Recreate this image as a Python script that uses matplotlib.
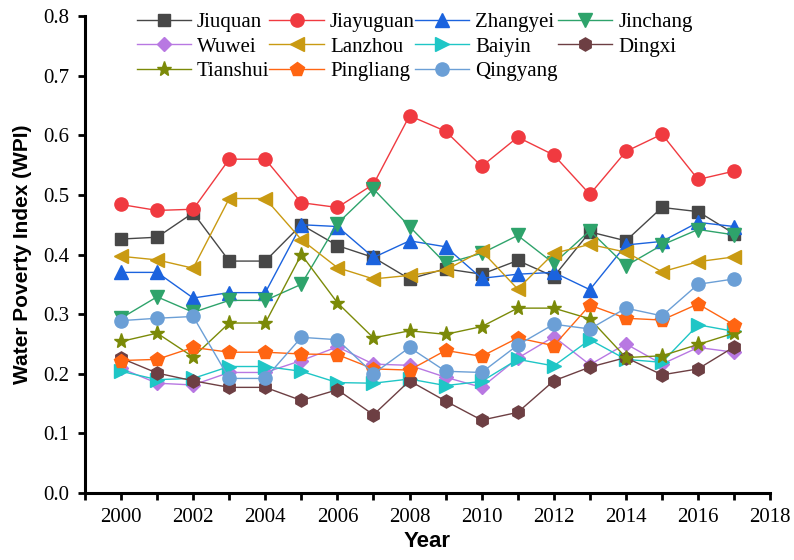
import numpy as np
import matplotlib.pyplot as plt
from matplotlib.ticker import MultipleLocator

years = list(range(2000, 2018))

cities = ['Jiuquan', 'Jiayuguan', 'Zhangyei', 'Jinchang', 'Wuwei', 'Lanzhou',
          'Baiyin', 'Dingxi', 'Tianshui', 'Pingliang', 'Qingyang']

jiuquan = [0.426, 0.429, 0.470, 0.389, 0.389, 0.450, 0.415, 0.395, 0.359, 0.376,
           0.367, 0.390, 0.363, 0.438, 0.423, 0.479, 0.472, 0.435]
jiayuguan = [0.484, 0.474, 0.476, 0.560, 0.560, 0.487, 0.479, 0.518, 0.633, 0.607,
             0.548, 0.597, 0.567, 0.501, 0.573, 0.602, 0.526, 0.540]
zhangyei = [0.370, 0.370, 0.327, 0.336, 0.336, 0.450, 0.447, 0.395, 0.423, 0.413,
            0.360, 0.367, 0.370, 0.341, 0.416, 0.422, 0.454, 0.447]
jinchang = [0.293, 0.329, 0.303, 0.323, 0.323, 0.350, 0.452, 0.510, 0.447, 0.385,
            0.402, 0.432, 0.385, 0.440, 0.381, 0.416, 0.442, 0.433]
wuwei = [0.209, 0.184, 0.181, 0.202, 0.202, 0.222, 0.245, 0.216, 0.214, 0.194,
         0.177, 0.226, 0.262, 0.215, 0.250, 0.216, 0.244, 0.236]
lanzhou = [0.397, 0.391, 0.377, 0.494, 0.494, 0.425, 0.378, 0.359, 0.365, 0.374,
           0.406, 0.342, 0.402, 0.417, 0.404, 0.371, 0.388, 0.396]
baiyin = [0.204, 0.190, 0.192, 0.212, 0.212, 0.204, 0.185, 0.184, 0.191, 0.180,
          0.187, 0.224, 0.213, 0.257, 0.224, 0.219, 0.282, 0.271]
dingxi = [0.226, 0.201, 0.188, 0.177, 0.177, 0.155, 0.173, 0.131, 0.188, 0.154,
          0.122, 0.135, 0.188, 0.211, 0.227, 0.198, 0.208, 0.245]
tianshui = [0.254, 0.268, 0.228, 0.285, 0.285, 0.400, 0.319, 0.260, 0.272, 0.266,
            0.279, 0.310, 0.310, 0.292, 0.227, 0.230, 0.249, 0.268]
pingliang = [0.222, 0.224, 0.244, 0.236, 0.236, 0.233, 0.232, 0.208, 0.206, 0.239,
             0.229, 0.260, 0.247, 0.315, 0.293, 0.290, 0.317, 0.282]
qingyang = [0.289, 0.293, 0.296, 0.192, 0.192, 0.261, 0.257, 0.200, 0.244, 0.204,
            0.202, 0.248, 0.283, 0.275, 0.310, 0.297, 0.350, 0.359]

series = [jiuquan, jiayuguan, zhangyei, jinchang, wuwei, lanzhou,
          baiyin, dingxi, tianshui, pingliang, qingyang]
colors = ['#474747', '#f03a40', '#1b63de', '#2ea36b', '#b878e2', '#c99a12',
          '#1fc6c6', '#6d3f43', '#7b8a08', '#ff6512', '#6b9fd6']
markers = ['s', 'o', '^', 'v', 'D', '<', '>', 'h', '*', 'p', 'o']
msizes = [8.5, 9.5, 10, 10, 7.5, 10, 10, 9.5, 11, 10, 9.5]

fig = plt.figure(figsize=(7.94, 5.6), dpi=100)
ax = fig.add_axes([0.107, 0.12, 0.863, 0.851])

handles = []
for name, vals, c, m, ms in zip(cities, series, colors, markers, msizes):
    h, = ax.plot(years, vals, color=c, marker=m, markersize=ms, linewidth=1.0,
                 markeredgecolor=c, label=name)
    handles.append(h)

ax.set_xlim(1999, 2018)
ax.set_ylim(0, 0.8)
ax.xaxis.set_major_locator(MultipleLocator(2))
ax.xaxis.set_minor_locator(MultipleLocator(1))
ax.yaxis.set_major_locator(MultipleLocator(0.1))
ax.yaxis.set_major_formatter(plt.FuncFormatter(lambda v, p: f'{v:.1f}'))

for s in ['top', 'right']:
    ax.spines[s].set_visible(False)
for s in ['left', 'bottom']:
    ax.spines[s].set_linewidth(2.2)
ax.tick_params(which='both', direction='out', width=2.0, length=5)
ax.tick_params(which='major', labelsize=15, pad=6)
for lab in ax.get_xticklabels() + ax.get_yticklabels():
    lab.set_family('Liberation Serif')

ax.set_xlabel('Year', fontsize=16, fontweight='bold', family='Liberation Sans', labelpad=3)
ax.set_ylabel('Water Poverty Index (WPI)', fontsize=15, fontweight='bold',
              family='Liberation Sans', labelpad=8)

# reorder so the legend reads row by row
order = [0, 4, 8, 1, 5, 9, 2, 6, 10, 3, 7]
fig.legend([handles[i] for i in order], [cities[i] for i in order],
           loc='upper left', bbox_to_anchor=(0.172, 0.978), ncol=4, frameon=False,
           prop={'family': 'Liberation Serif', 'size': 15}, handlelength=2.6,
           handletextpad=0.3, columnspacing=0.0, labelspacing=0.25, borderpad=0,
           borderaxespad=0)

fig.savefig('out.png', dpi=100)
